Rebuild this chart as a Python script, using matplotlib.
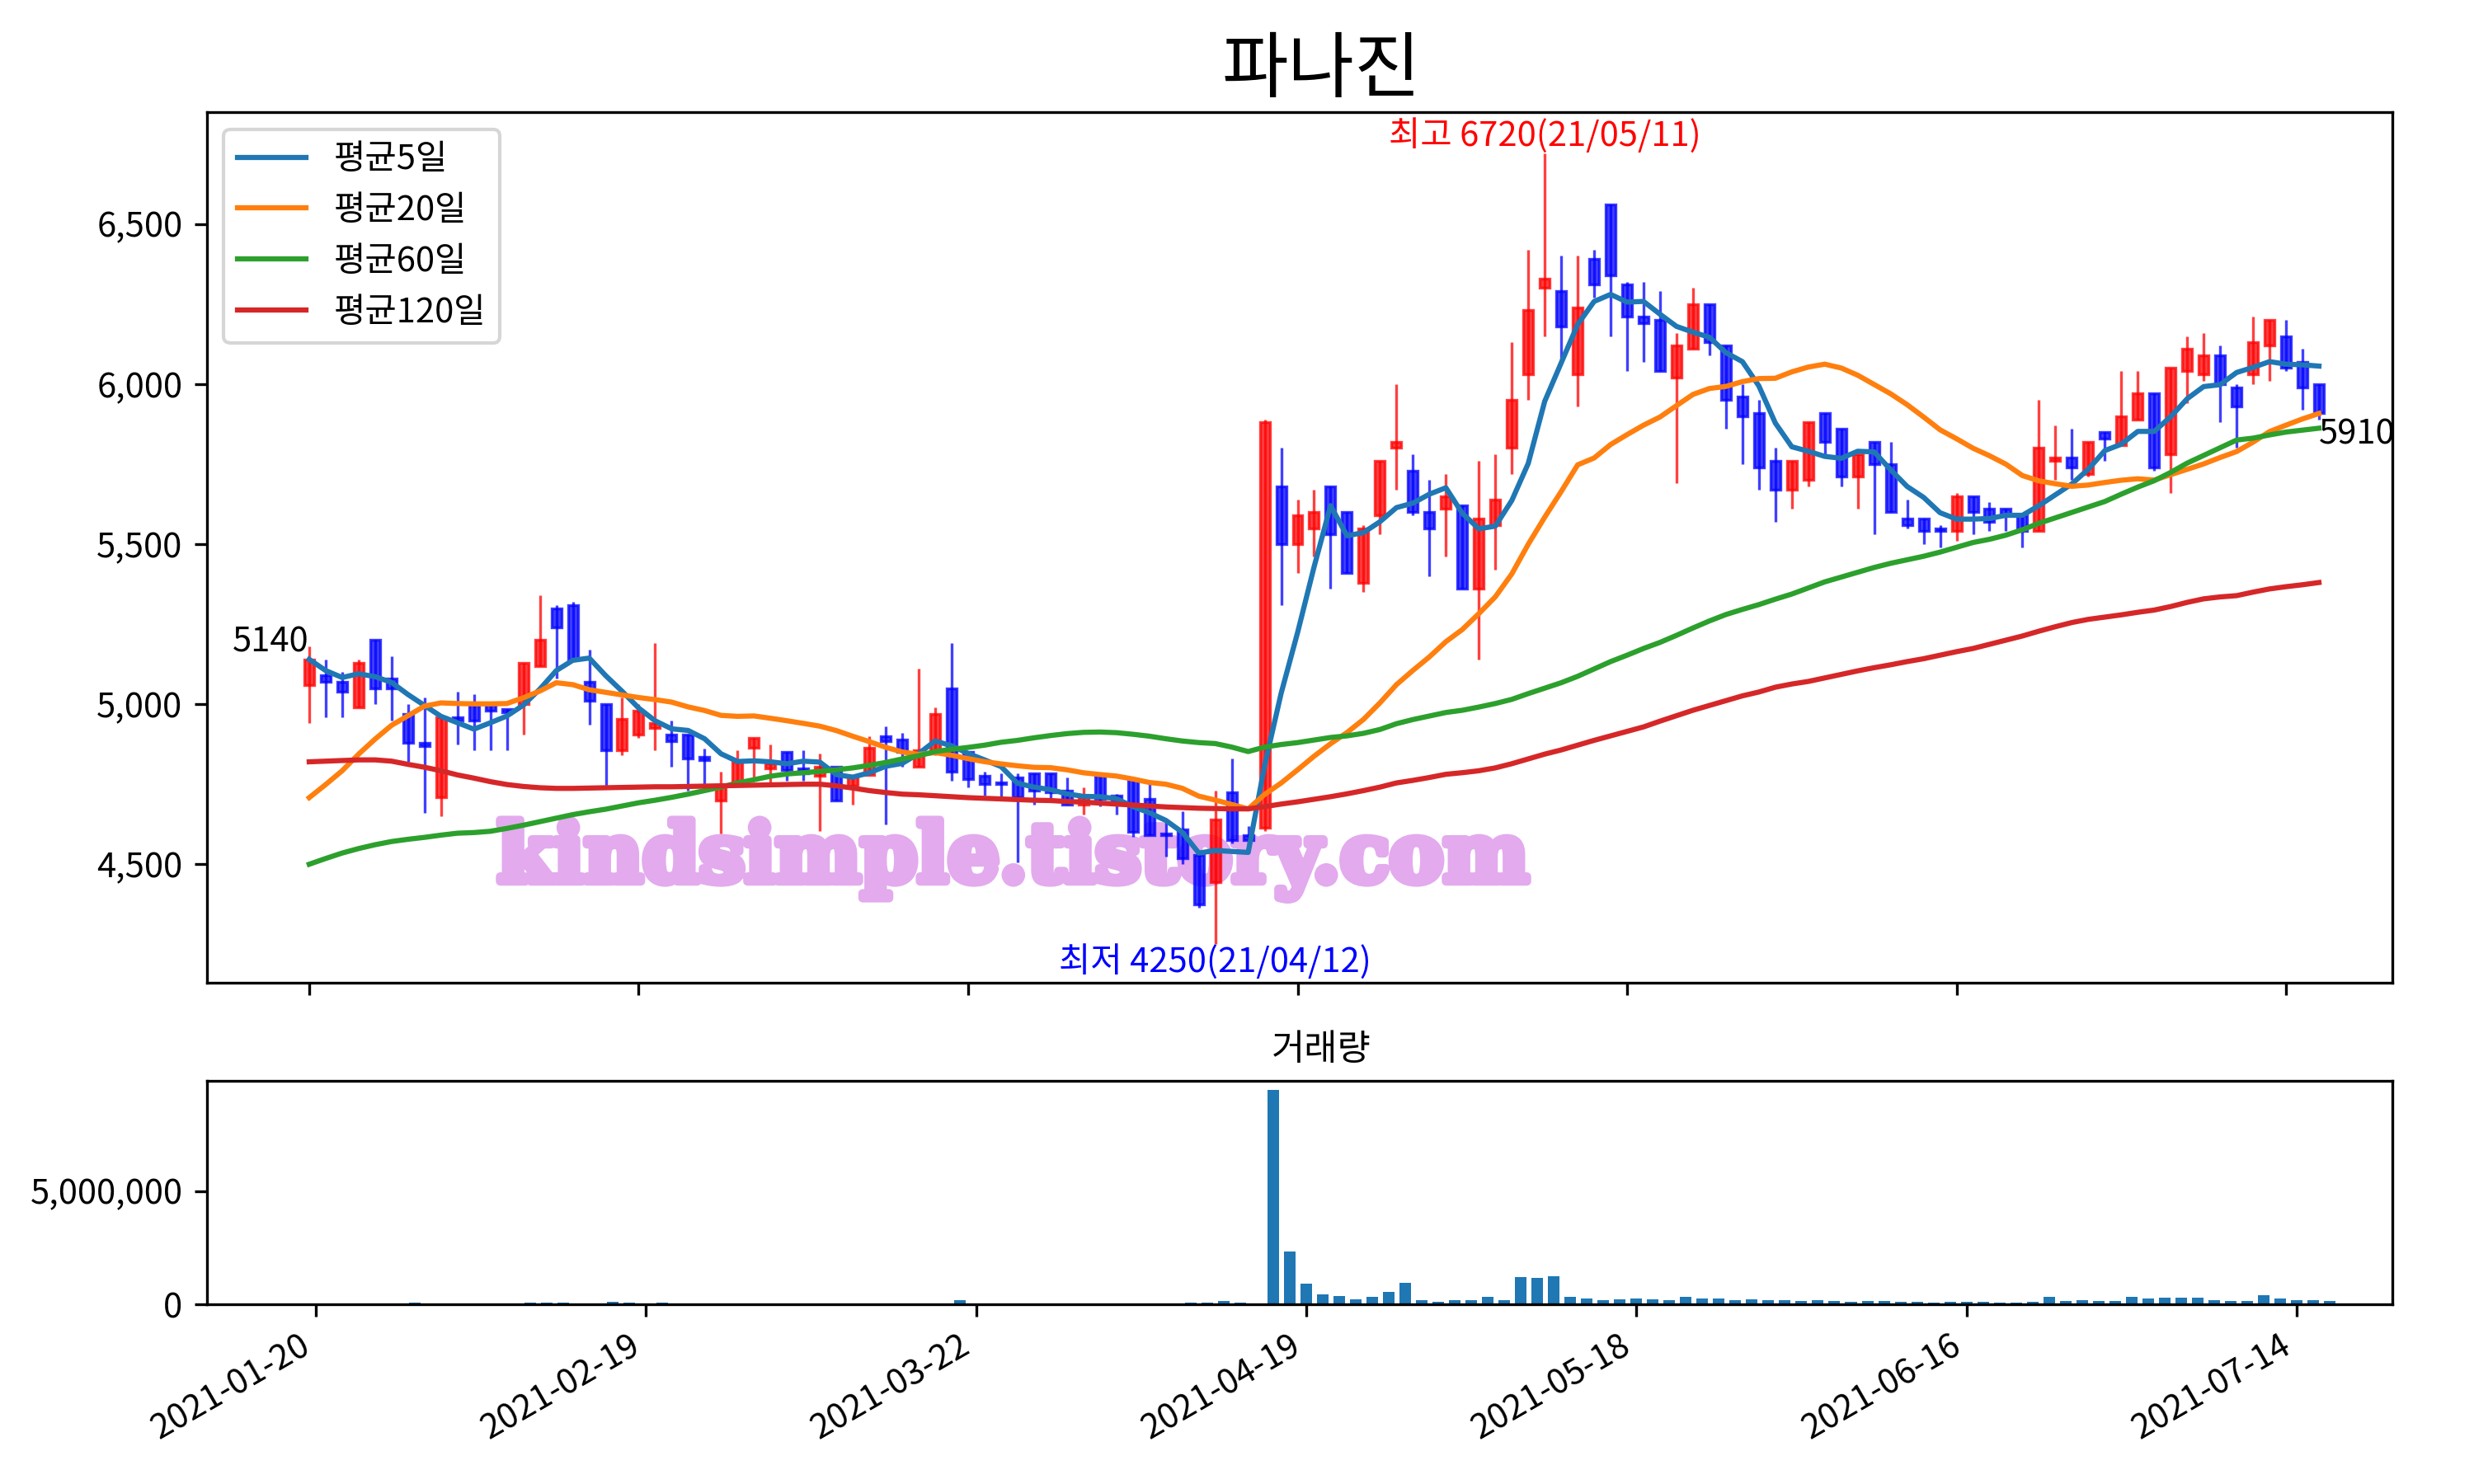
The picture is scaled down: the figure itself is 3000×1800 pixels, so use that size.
import numpy as np
import pandas as pd
import matplotlib
matplotlib.use('Agg')
import matplotlib.pyplot as plt
import matplotlib.patheffects as pe
from matplotlib.ticker import FuncFormatter

plt.rcParams['font.family'] = ['Noto Sans CJK KR', 'DejaVu Sans']
plt.rcParams['axes.unicode_minus'] = False

# daily prices, trading days 2021-01-20 .. 2021-07-16
opens = [5060, 5090, 5070, 4990, 5200, 5080, 4970, 4880, 4710, 4960,
         5000, 5000, 4985, 5000, 5120, 5300, 5310, 5070, 5000, 4855,
         4905, 4925, 4905, 4905, 4835, 4700, 4755, 4865, 4800, 4850,
         4800, 4775, 4805, 4745, 4780, 4900, 4890, 4805, 4855, 5050,
         4850, 4775, 4755, 4770, 4785, 4785, 4730, 4685, 4780, 4715,
         4765, 4705, 4595, 4610, 4530, 4445, 4725, 4590, 4615, 5680,
         5500, 5550, 5680, 5600, 5380, 5590, 5800, 5730, 5600, 5610,
         5620, 5360, 5560, 5800, 6030, 6300, 6290, 6030, 6390, 6560,
         6310, 6210, 6200, 6020, 6110, 6250, 6120, 5960, 5910, 5760,
         5670, 5700, 5910, 5860, 5710, 5820, 5750, 5580, 5580, 5550,
         5540, 5650, 5610, 5610, 5590, 5540, 5760, 5770, 5720, 5850,
         5810, 5890, 5970, 5780, 6040, 6030, 6090, 5990, 6030, 6120,
         6150, 6070, 6000]
highs = [5180, 5140, 5100, 5140, 5200, 5150, 5000, 5020, 4960, 5040,
         5030, 5000, 4985, 5130, 5340, 5310, 5320, 5170, 5000, 5020,
         5000, 5190, 4950, 4905, 4860, 4790, 4855, 4895, 4875, 4850,
         4855, 4845, 4805, 4780, 4900, 4930, 4910, 5110, 4990, 5190,
         4850, 4790, 4785, 4785, 4785, 4785, 4770, 4740, 4780, 4720,
         4765, 4750, 4640, 4665, 4530, 4730, 4830, 4620, 5890, 5800,
         5640, 5670, 5680, 5600, 5560, 5760, 6000, 5780, 5700, 5720,
         5620, 5760, 5780, 6130, 6420, 6720, 6400, 6400, 6420, 6560,
         6320, 6320, 6290, 6160, 6300, 6250, 6120, 6000, 5950, 5800,
         5760, 5880, 5910, 5860, 5780, 5820, 5820, 5640, 5580, 5560,
         5660, 5650, 5630, 5610, 5590, 5950, 5870, 5860, 5820, 5850,
         6040, 6040, 5970, 6050, 6150, 6160, 6120, 6000, 6210, 6200,
         6200, 6110, 6000]
lows = [4940, 4960, 4960, 4990, 5000, 4950, 4820, 4660, 4650, 4875,
        4855, 4855, 4855, 4905, 5120, 5080, 5140, 4935, 4745, 4840,
        4895, 4855, 4805, 4730, 4730, 4595, 4755, 4760, 4755, 4760,
        4760, 4605, 4700, 4685, 4780, 4625, 4805, 4805, 4840, 4760,
        4740, 4715, 4710, 4505, 4685, 4705, 4685, 4655, 4680, 4655,
        4585, 4590, 4525, 4500, 4365, 4250, 4565, 4560, 4605, 5310,
        5410, 5460, 5360, 5410, 5350, 5530, 5670, 5590, 5400, 5460,
        5360, 5140, 5420, 5720, 5950, 6150, 6070, 5930, 6270, 6150,
        6040, 6070, 6040, 5690, 6110, 6090, 5860, 5750, 5670, 5570,
        5610, 5680, 5780, 5680, 5610, 5530, 5600, 5550, 5500, 5490,
        5510, 5530, 5540, 5540, 5490, 5540, 5700, 5700, 5710, 5760,
        5810, 5890, 5730, 5660, 5940, 6010, 5880, 5800, 6000, 6010,
        6040, 5920, 5890]
closes = [5140, 5070, 5040, 5130, 5050, 5050, 4880, 4870, 4960, 4950,
          4950, 4980, 4975, 5130, 5200, 5240, 5140, 5010, 4855, 4955,
          4980, 4940, 4885, 4830, 4825, 4745, 4820, 4895, 4815, 4795,
          4785, 4805, 4700, 4775, 4865, 4885, 4850, 4855, 4970, 4790,
          4765, 4750, 4750, 4710, 4730, 4725, 4685, 4710, 4705, 4700,
          4600, 4590, 4590, 4520, 4375, 4640, 4575, 4575, 5880, 5500,
          5590, 5600, 5530, 5410, 5550, 5760, 5820, 5600, 5550, 5650,
          5360, 5580, 5640, 5950, 6230, 6330, 6180, 6240, 6310, 6340,
          6210, 6190, 6040, 6120, 6250, 6130, 5950, 5900, 5740, 5670,
          5760, 5880, 5820, 5710, 5780, 5750, 5600, 5560, 5540, 5540,
          5650, 5600, 5570, 5590, 5540, 5800, 5770, 5740, 5820, 5830,
          5900, 5970, 5740, 6050, 6110, 6090, 6000, 5930, 6130, 6200,
          6050, 5990, 5910]
volumes = [60e3, 50e3, 40e3, 30e3, 30e3, 25e3, 70e3, 60e3, 50e3, 30e3,
           30e3, 20e3, 20e3, 80e3, 90e3, 70e3, 60e3, 60e3, 130e3, 80e3,
           30e3, 90e3, 30e3, 25e3, 25e3, 20e3, 25e3, 20e3, 20e3, 25e3,
           20e3, 20e3, 20e3, 25e3, 40e3, 30e3, 30e3, 30e3, 60e3, 200e3,
           40e3, 30e3, 30e3, 30e3, 25e3, 25e3, 60e3, 30e3, 30e3, 30e3,
           30e3, 60e3, 50e3, 70e3, 97e3, 169e3, 97e3, 10e3, 9.46e6, 2.35e6,
           931e3, 460e3, 387e3, 242e3, 351e3, 568e3, 968e3, 206e3, 133e3, 206e3,
           206e3, 351e3, 206e3, 1.22e6, 1.19e6, 1.26e6, 351e3, 278e3, 206e3, 242e3,
           280e3, 230e3, 200e3, 350e3, 250e3, 280e3, 200e3, 220e3, 180e3, 200e3,
           150e3, 200e3, 150e3, 120e3, 150e3, 160e3, 130e3, 120e3, 100e3, 140e3,
           110e3, 120e3, 100e3, 90e3, 120e3, 350e3, 150e3, 200e3, 150e3, 150e3,
           350e3, 250e3, 300e3, 300e3, 300e3, 200e3, 150e3, 150e3, 400e3, 250e3,
           200e3, 200e3, 150e3]

ma20_head = [4708, 4749, 4792, 4844, 4891, 4934, 4964, 4994, 5004, 5002,
             5001, 5001, 5002, 5020, 5041, 5067, 5061, 5045, 5037]
ma60 = [4500, 4518, 4535, 4549, 4561, 4571, 4578, 4584, 4591, 4597,
        4599, 4603, 4612, 4622, 4633, 4644, 4655, 4664, 4672, 4682,
        4692, 4700, 4709, 4719, 4730, 4741, 4754, 4764, 4775, 4782,
        4786, 4790, 4795, 4801, 4809, 4818, 4829, 4839, 4852, 4859,
        4865, 4872, 4881, 4887, 4895, 4902, 4908, 4912, 4913, 4911,
        4906, 4900, 4892, 4885, 4880, 4877, 4866, 4852, 4866, 4874,
        4880, 4888, 4896, 4901, 4909, 4921, 4939, 4952, 4963, 4974,
        4981, 4991, 5002, 5015, 5033, 5050, 5067, 5087, 5110, 5133,
        5153, 5174, 5193, 5215, 5238, 5260, 5280, 5296, 5311, 5328,
        5344, 5363, 5382, 5397, 5412, 5427, 5440, 5451, 5462, 5475,
        5490, 5505, 5515, 5528, 5545, 5565, 5582, 5599, 5616, 5633,
        5656, 5678, 5698, 5724, 5753, 5777, 5801, 5825, 5831, 5841,
        5850, 5856, 5862]
ma120 = [4820, 4822, 4824, 4826, 4826, 4822, 4812, 4803, 4792, 4779,
         4769, 4758, 4749, 4743, 4739, 4737, 4737, 4738, 4739, 4740,
         4741, 4742, 4742, 4743, 4744, 4745, 4746, 4747, 4748, 4749,
         4750, 4750, 4745, 4738, 4730, 4724, 4719, 4717, 4714, 4711,
         4708, 4706, 4704, 4702, 4700, 4699, 4696, 4694, 4691, 4688,
         4685, 4682, 4679, 4677, 4675, 4674, 4673, 4673, 4680, 4688,
         4695, 4703, 4711, 4720, 4730, 4741, 4754, 4762, 4771, 4781,
         4786, 4792, 4801, 4814, 4829, 4844, 4857, 4872, 4887, 4901,
         4915, 4929, 4947, 4964, 4981, 4996, 5011, 5026, 5038, 5053,
         5063, 5071, 5082, 5093, 5104, 5114, 5123, 5133, 5142, 5153,
         5164, 5174, 5187, 5200, 5213, 5228, 5242, 5255, 5265, 5272,
         5279, 5287, 5294, 5305, 5318, 5329, 5335, 5339, 5350, 5360,
         5367, 5373, 5380]

tick_pos = [0, 20, 40, 60, 80, 100, 120]
tick_labels = ['2021-01-20', '2021-02-19', '2021-03-22', '2021-04-19',
               '2021-05-18', '2021-06-16', '2021-07-14']

df = pd.DataFrame({'open': opens, 'high': highs, 'low': lows,
                   'close': closes, 'volume': volumes})
df['ma5'] = df['close'].rolling(5, min_periods=1).mean()
ma20 = df['close'].rolling(20).mean()
ma20.iloc[:len(ma20_head)] = ma20_head
df['ma20'] = ma20
df['ma60'] = ma60
df['ma120'] = ma120
x = np.arange(len(df))

fig = plt.figure(figsize=(10, 6), dpi=300)
ax = fig.add_axes([0.0835, 0.3378, 0.8834, 0.5868])
ax_v = fig.add_axes([0.0835, 0.1209, 0.8834, 0.1510])

# candles
up = df['close'] >= df['open']
colors = np.where(up, 'r', 'b')
ax.vlines(x, df['low'], df['high'], colors=colors, linewidth=0.8, alpha=0.75, zorder=1)
body_low = np.minimum(df['open'], df['close'])
body_h = (df['close'] - df['open']).abs()
ax.bar(x, body_h, bottom=body_low, width=0.6, color=colors, edgecolor=colors,
       linewidth=0.8, alpha=0.75, zorder=1.5)

ax.plot(x, df['ma5'], color='tab:blue', lw=1.5, label='평균5일', zorder=3)
ax.plot(x, df['ma20'], color='tab:orange', lw=1.5, label='평균20일', zorder=3)
ax.plot(x, df['ma60'], color='tab:green', lw=1.5, label='평균60일', zorder=3)
ax.plot(x, df['ma120'], color='tab:red', lw=1.5, label='평균120일', zorder=3)

# annotations
i_hi = int(df['high'].idxmax())
i_lo = int(df['low'].idxmin())
ax.text(i_hi, df['high'][i_hi], f"최고 {df['high'][i_hi]}(21/05/11)", color='r',
        ha='center', va='bottom', fontsize=10)
ax.text(i_lo, df['low'][i_lo], f"최저 {df['low'][i_lo]}(21/04/12)", color='b',
        ha='center', va='top', fontsize=10)
ax.text(0, closes[0], f"{closes[0]}", ha='right', va='bottom', fontsize=10)
ax.text(x[-1], closes[-1] - 15, f"{closes[-1]}", ha='left', va='top', fontsize=10)

ax.text(0.369, 0.141, 'kindsimple.tistory.com', transform=ax.transAxes,
        ha='center', va='center', fontsize=23.5, fontweight='bold',
        family='DejaVu Serif', color='#e3aaee', zorder=0.5,
        path_effects=[pe.withStroke(linewidth=2.5, foreground='#e3aaee')])

ax.set_title('파나진', fontsize=21, x=0.51)
ax.legend(loc='upper left', fontsize=10)
ax.set_xlim(-6.23, 126.44)
ax.set_ylim(4130, 6850)
ax.yaxis.set_major_formatter(FuncFormatter(lambda v, p: f'{v:,.0f}'))
ax.set_xticks(tick_pos)
ax.set_xticklabels([])

# volume
ax_v.bar(x, df['volume'], width=0.7, color='tab:blue')
ax_v.set_title('거래량', fontsize=10.5, x=0.51)
ax_v.set_xlim(-6.61, 125.78)
ax_v.set_ylim(0, 9.86e6)
ax_v.yaxis.set_major_formatter(FuncFormatter(lambda v, p: f'{v:,.0f}'))
ax_v.set_yticks([0, 5000000])
ax_v.set_xticks(tick_pos)
ax_v.set_xticklabels(tick_labels, rotation=30, ha='right')

fig.savefig('out.png', dpi=300)
